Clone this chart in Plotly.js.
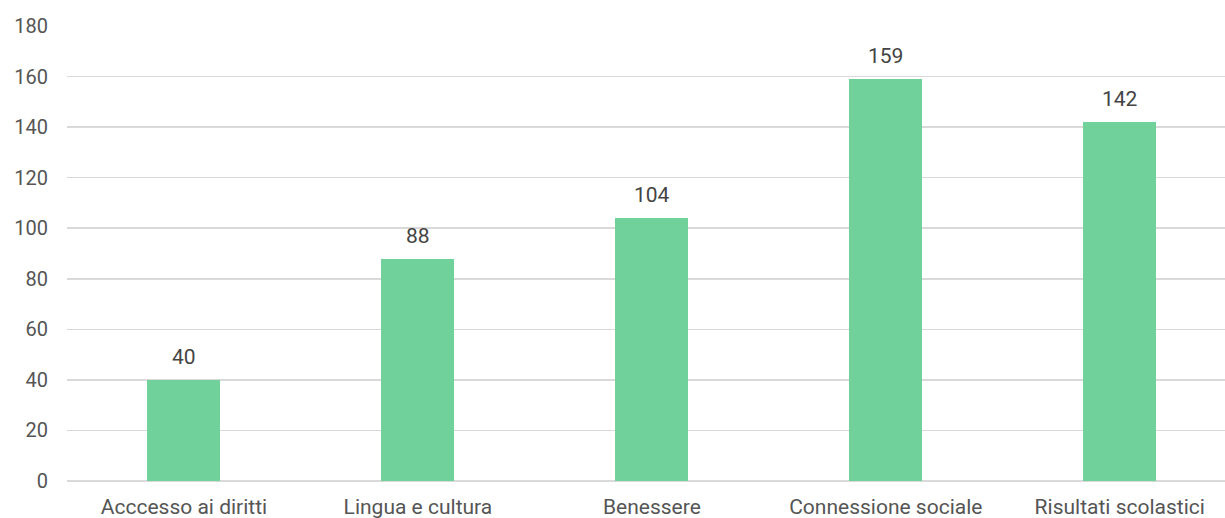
<!DOCTYPE html>
<html>
<head>
<meta charset="utf-8">
<script src="https://cdn.plot.ly/plotly-3.0.1.min.js"></script>
<style>html,body{margin:0;padding:0;background:#fff;}#chart{width:1225px;height:518px;}</style>
</head>
<body>
<div id="chart"></div>
<script>
const categories = ["Acccesso ai diritti", "Lingua e cultura", "Benessere", "Connessione sociale", "Risultati scolastici"];
const values = [40, 88, 104, 159, 142];
const yTicks = [0, 20, 40, 60, 80, 100, 120, 140, 160, 180];

const trace = {
  type: 'bar',
  x: categories,
  y: values,
  width: 0.312,
  marker: {color: '#71d19a'},
  hoverinfo: 'x+y'
};

const annotations = categories.map((c, i) => ({
  x: c, y: values[i], text: String(values[i]),
  xref: 'x', yref: 'y', showarrow: false,
  yanchor: 'bottom', yshift: 9,
  font: {family: 'Roboto, sans-serif', size: 21, color: '#444444'}
}));

const layout = {
  width: 1225, height: 518,
  margin: {l: 67, r: 0, t: 26, b: 37},
  paper_bgcolor: '#ffffff', plot_bgcolor: '#ffffff',
  font: {family: 'Roboto, sans-serif', size: 21, color: '#555555'},
  showlegend: false,
  bargap: 0,
  xaxis: {
    type: 'category',
    range: [-0.5, 4.45],
    showgrid: false, zeroline: false, showline: false,
    ticks: '', ticklabelstandoff: 11,
    tickfont: {family: 'Roboto, sans-serif', size: 21, color: '#555555'}
  },
  yaxis: {
    range: [0, 180],
    tickvals: yTicks, ticktext: yTicks.map(String),
    showgrid: true, gridcolor: '#d9d9d9', gridwidth: 1.5,
    zeroline: true, zerolinecolor: '#d9d9d9', zerolinewidth: 1.5,
    showline: false, ticks: '', ticklabelstandoff: 18,
    tickfont: {family: 'Roboto, sans-serif', size: 20, color: '#555555'}
  },
  annotations: annotations
};

Plotly.newPlot('chart', [trace], layout, {displayModeBar: false, staticPlot: true});
</script>
</body>
</html>
